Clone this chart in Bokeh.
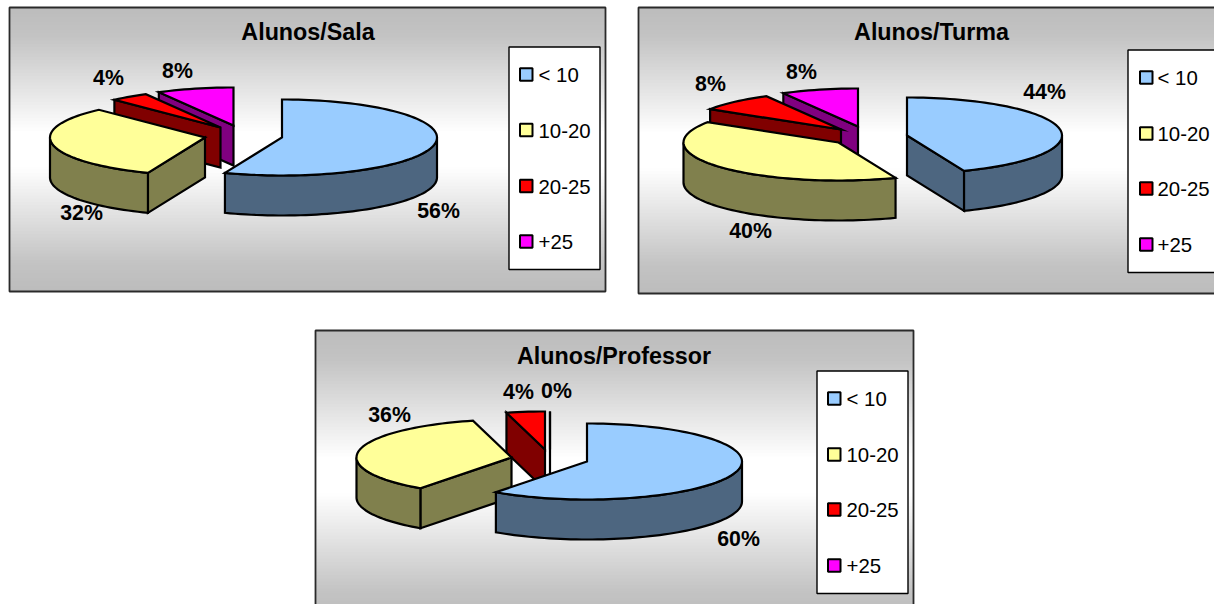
import math
from bokeh.core.properties import value
from bokeh.embed import file_html
from bokeh.models import ColumnDataSource
from bokeh.plotting import figure
from bokeh.resources import INLINE

# --- data -------------------------------------------------------------
categories = ["< 10", "10-20", "20-25", "+25"]
titles = ["Alunos/Sala", "Alunos/Turma", "Alunos/Professor"]
alunos_sala = [56, 32, 4, 8]
alunos_turma = [44, 40, 8, 8]
alunos_professor = [60, 36, 4, 0]

# --- styles -----------------------------------------------------------
top_colors = ["#99CCFF", "#FFFF99", "#FF0000", "#FF00FF"]
wall_colors = ["#4D6680", "#80804D", "#800000", "#800080"]
FONT = value("Liberation Sans")
RX, RY, DEPTH = 155, 38, 40

# --- layout of each chart (page pixels) --------------------------------
panels = [
    dict(values=alunos_sala, title=titles[0], box=(9, 7, 605, 291), title_xy=(307.5, 31),
         apex=[(281.5, 137), (204.5, 137), (220, 127), (233, 125)],
         labels=[(438, 210), (81, 212), (108, 77), (177, 70)],
         legend=(508.5, 46.5, 599.5, 269), sw=519.5, txt=538, rows=[74, 129.5, 185.5, 241]),
    dict(values=alunos_turma, title=titles[1], box=(638, 7, 1230, 293), title_xy=(931, 31),
         apex=[(906.5, 135), (838, 142), (840.5, 129), (857.5, 126)],
         labels=[(1044, 91), (750, 230), (710, 83), (801, 71)],
         legend=(1127.5, 49.5, 1218.5, 272), sw=1139.5, txt=1157, rows=[77, 133, 188, 244]),
    dict(values=alunos_professor, title=titles[2], box=(315, 330, 913, 620), title_xy=(613.5, 355),
         apex=[(586.5, 461), (511, 457), (544.5, 449), (549.5, 449)],
         labels=[(738, 538), (389, 414), (518, 391), (556, 390)],
         legend=(816.5, 370.5, 907.5, 593), sw=827.5, txt=846, rows=[398, 454, 509, 565]),
]

W, H = 1214, 604
p = figure(width=W, height=H, x_range=(0, W), y_range=(H, 0),
           output_backend="svg", toolbar_location=None, min_border=0,
           background_fill_color="white", border_fill_color="white", outline_line_color=None)
p.axis.visible = False
p.grid.visible = False


def pt(cx, cy, a, dy=0):
    r = math.radians(a)
    return cx + RX * math.sin(r), cy - RY * math.cos(r) + dy


def arc(cx, cy, a0, a1, dy=0):
    n = max(int(abs(a1 - a0) / 2), 1)
    return [pt(cx, cy, a0 + (a1 - a0) * i / n, dy) for i in range(n + 1)]


def add_poly(pts, color):
    p.patch([q[0] for q in pts], [q[1] for q in pts], fill_color=color,
            line_color="black", line_width=2.2, line_join="miter")


def shade(t):
    # panel backdrop: t is 0 at the middle of the panel, 1 at its top or bottom edge
    if t < 0.12:
        return 255
    if t < 0.8:
        return 255 - (255 - 195) * (t - 0.12) / 0.68
    return 195 - 7 * (t - 0.8) / 0.2


for panel in panels:
    x0, y0, x1, y1 = panel["box"]
    h = y1 - y0
    ys = list(range(y0, y1))
    cols = []
    for y in ys:
        g = round(shade(abs((y + 0.5 - y0) / h - 0.5) * 2))
        cols.append("#%02x%02x%02x" % (g, g, g))
    # strips overlap the next row so that no white seam shows between them
    p.quad(left=x0, right=x1, top=ys, bottom=[min(y + 2, y1) for y in ys], fill_color=cols, line_color=None)
    p.quad(left=x0, right=x1, top=y0, bottom=y1, fill_color=None, line_color="#2a2a2a", line_width=1.8)

    # slices are clockwise from 12 o'clock, their angles come from the values
    starts, a = [], 0.0
    for v in panel["values"]:
        starts.append(a)
        a += v * 3.6
    order = [3, 2, 1, 0]
    for i in order:
        v = panel["values"][i]
        a0, a1 = starts[i], starts[i] + v * 3.6
        cx, cy = panel["apex"][i]
        apex = (cx, cy)
        low = (cx, cy + DEPTH)
        if 180 < a0 <= 360:
            add_poly([apex, pt(cx, cy, a0), pt(cx, cy, a0, DEPTH), low], wall_colors[i])
        if 0 < a1 < 180:
            add_poly([apex, pt(cx, cy, a1), pt(cx, cy, a1, DEPTH), low], wall_colors[i])
        lo, hi = max(a0, 90), min(a1, 270)
        if hi > lo:
            add_poly(arc(cx, cy, lo, hi) + arc(cx, cy, hi, lo, DEPTH), wall_colors[i])
        add_poly([apex] + arc(cx, cy, a0, a1), top_colors[i])

    # percentage labels
    src = ColumnDataSource(dict(x=[q[0] for q in panel["labels"]], y=[q[1] for q in panel["labels"]],
                                t=["%d%%" % v for v in panel["values"]]))
    p.text("x", "y", text="t", source=src, text_font=FONT, text_font_style="bold", text_font_size="21.3px",
           text_align="center", text_baseline="middle", text_color="black")
    # title
    p.text([panel["title_xy"][0]], [panel["title_xy"][1]], text=[panel["title"]], text_font=FONT,
           text_font_style="bold", text_font_size="23.3px", text_align="center",
           text_baseline="middle", text_color="black")
    # legend
    lx0, ly0, lx1, ly1 = panel["legend"]
    p.quad(left=lx0, right=lx1, top=ly0, bottom=ly1, fill_color="white", line_color="black", line_width=1.4)
    for c, col, row in zip(categories, top_colors, panel["rows"]):
        s = panel["sw"]
        p.quad(left=s, right=s + 12.5, top=row - 6.25, bottom=row + 6.25, fill_color=col,
               line_color="black", line_width=2)
        p.text([panel["txt"]], [row + 0.5], text=[c], text_font=FONT, text_font_size="20.4px",
               text_align="left", text_baseline="middle", text_color="black")

open("out.html", "w").write(file_html(p, INLINE))
